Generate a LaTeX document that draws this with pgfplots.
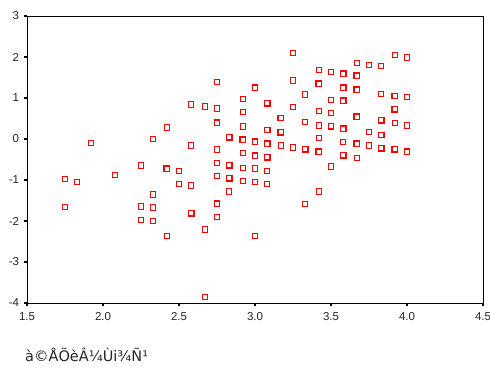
\documentclass[border=0pt]{standalone}
\usepackage{pgfplots}
\pgfplotsset{compat=1.18}
\usepackage{fontspec}
\setmainfont{Liberation Sans}
\newfontfamily\labfont{DejaVu Sans}
\begin{document}
\begin{tikzpicture}
\begin{axis}[
  at={(0,0)}, anchor=south west,
  scale only axis,
  width=456bp, height=287bp,
  xmin=1.5, xmax=4.5, ymin=-4, ymax=3,
  xtick={1.5,2,...,4.5}, ytick={-4,...,3},
  xticklabel style={/pgf/number format/.cd,fixed,fixed zerofill,precision=1,/tikz/.cd,yshift=-3bp},
  yticklabel style={xshift=-1.5bp},
  /pgf/number format/assume math mode=true,
  tick label style={font=\fontsize{11.5bp}{13bp}\selectfont, text=black!85},
  tick align=outside,
  xtick pos=bottom, ytick pos=left,
  major tick length=3bp,
  every tick/.style={black, line width=1.3bp},
  axis line style={black, line width=0.8bp},
]
% single points
\addplot[only marks, mark=square, mark size=2.7bp, mark options={draw=red, fill=white, line width=0.8bp}] coordinates {
(1.75,-0.98) (1.75,-1.66) (1.83,-1.05) (1.92,-0.10) (2.08,-0.87)
(2.25,-0.64) (2.25,-1.64) (2.25,-1.97)
(2.33,0.00) (2.33,-1.35) (2.33,-1.67) (2.33,-2.00)
(2.42,0.28) (2.42,-2.37)
(2.5,-1.10)
(2.58,0.84) (2.58,-0.16) (2.58,-1.13)
(2.67,0.80) (2.67,-2.20) (2.67,-3.85)
(2.75,1.40) (2.75,0.75) (2.75,-0.25) (2.75,-0.58) (2.75,-0.90) (2.75,-1.90)
(2.83,-1.28)
(2.92,0.98) (2.92,0.66) (2.92,0.31) (2.92,-0.34) (2.92,-0.70) (2.92,-1.02)
(3.0,-0.72) (3.0,-1.04) (3.0,-2.37)
(3.08,-0.78) (3.08,-1.10)
(3.17,-0.16)
(3.25,2.10) (3.25,1.43) (3.25,0.78) (3.25,-0.20)
(3.33,1.09) (3.33,0.41) (3.33,-1.59)
(3.42,1.69) (3.42,0.69) (3.42,0.33) (3.42,0.02) (3.42,-1.28)
(3.5,1.63) (3.5,0.95) (3.5,0.63) (3.5,-0.67)
(3.58,-0.07)
(3.67,1.85) (3.67,-0.46)
(3.75,1.81) (3.75,-0.16)
(3.83,1.78) (3.83,1.10)
(3.92,2.05) (3.92,0.40)
(4.0,1.99) (4.0,1.02) (4.0,0.33)
};
% overlapping points
\addplot[only marks, mark=square, mark size=2.7bp, mark options={draw=red, fill=white, line width=1.4bp}] coordinates {
(2.42,-0.72) (2.5,-0.78) (2.58,-1.81) (2.75,0.40) (2.75,-1.58)
(2.83,0.04) (2.83,-0.64) (2.83,-0.96) (2.92,-0.02)
(3.0,1.25) (3.0,-0.07) (3.0,-0.41)
(3.08,0.87) (3.08,0.22) (3.08,-0.11) (3.08,-0.45)
(3.17,0.51) (3.17,0.16)
(3.33,-0.25)
(3.42,1.35) (3.42,-0.31)
(3.5,0.31)
(3.58,1.59) (3.58,1.25) (3.58,0.93) (3.58,0.25) (3.58,-0.40)
(3.67,1.54) (3.67,1.20) (3.67,0.54) (3.67,-0.11)
(3.75,0.17)
(3.83,0.46) (3.83,0.10) (3.83,-0.23)
(3.92,1.05) (3.92,0.72) (3.92,-0.25)
(4.0,-0.31)
};
\end{axis}
\node[anchor=base west, font=\labfont\fontsize{14.5bp}{16bp}\selectfont, text=black!85, inner sep=0pt] at (-2bp,-58bp) {à©ÅÕèÂ¼Ùi¾Ñ¹};
\pgfresetboundingbox
\path[use as bounding box] (-27bp,-66bp) rectangle (463bp,303bp);
\end{tikzpicture}
\end{document}
